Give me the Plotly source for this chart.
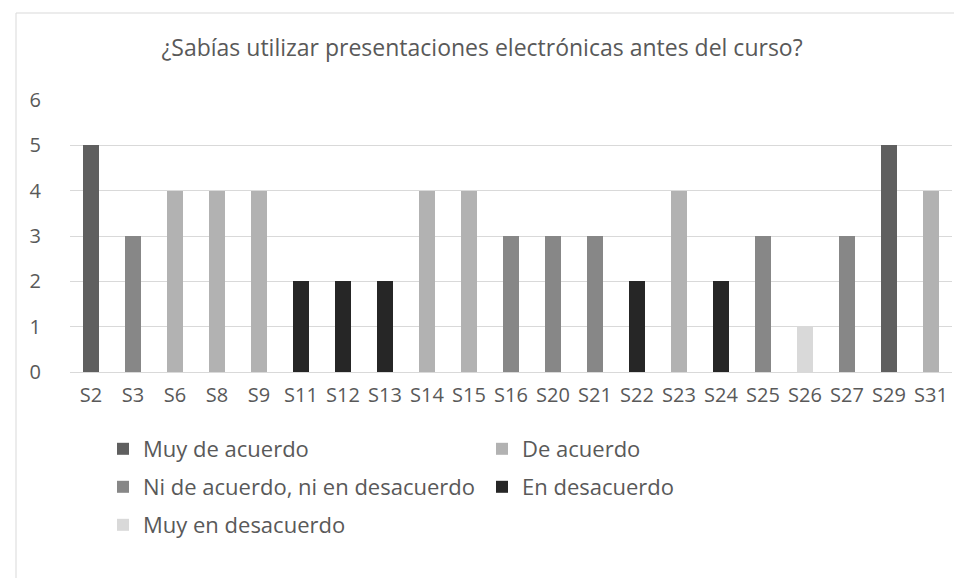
import plotly.graph_objects as go

# datos
categorias = ["S2", "S3", "S6", "S8", "S9", "S11", "S12", "S13", "S14", "S15", "S16",
              "S20", "S21", "S22", "S23", "S24", "S25", "S26", "S27", "S29", "S31"]
valores = [5, 3, 4, 4, 4, 2, 2, 2, 4, 4, 3, 3, 3, 2, 4, 2, 3, 1, 3, 5, 4]
respuestas = ["Muy de acuerdo", "Ni de acuerdo, ni en desacuerdo", "De acuerdo", "De acuerdo",
              "De acuerdo", "En desacuerdo", "En desacuerdo", "En desacuerdo", "De acuerdo",
              "De acuerdo", "Ni de acuerdo, ni en desacuerdo", "Ni de acuerdo, ni en desacuerdo",
              "Ni de acuerdo, ni en desacuerdo", "En desacuerdo", "De acuerdo", "En desacuerdo",
              "Ni de acuerdo, ni en desacuerdo", "Muy en desacuerdo",
              "Ni de acuerdo, ni en desacuerdo", "Muy de acuerdo", "De acuerdo"]

niveles = ["Muy de acuerdo", "De acuerdo", "Ni de acuerdo, ni en desacuerdo",
           "En desacuerdo", "Muy en desacuerdo"]
colores = {"Muy de acuerdo": "#5f5f5f", "De acuerdo": "#b2b2b2",
           "Ni de acuerdo, ni en desacuerdo": "#878787", "En desacuerdo": "#262626",
           "Muy en desacuerdo": "#d9d9d9"}
# fila de leyenda en la que va cada nivel
fila_leyenda = {"Muy de acuerdo": "legend", "De acuerdo": "legend",
                "Ni de acuerdo, ni en desacuerdo": "legend2", "En desacuerdo": "legend2",
                "Muy en desacuerdo": "legend3"}

FUENTE = "Open Sans"
GRIS_TEXTO = "#595959"

fig = go.Figure()
for nivel in niveles:
    y = [v if r == nivel else None for v, r in zip(valores, respuestas)]
    fig.add_trace(go.Bar(
        x=categorias, y=y, name=nivel,
        marker=dict(color=colores[nivel], line=dict(width=0)),
        legend=fila_leyenda[nivel],
    ))

leyenda_comun = dict(orientation="h", xanchor="left", yanchor="middle",
                     traceorder="normal",
                     entrywidth=334, entrywidthmode="pixels", itemwidth=30,
                     font=dict(family=FUENTE, size=22, color=GRIS_TEXTO),
                     bgcolor="rgba(0,0,0,0)")
x_leyenda = (95 - 62) / 882

fig.update_layout(
    width=962, height=578,
    margin=dict(l=62, r=18, t=92, b=214),
    paper_bgcolor="white", plot_bgcolor="white",
    barmode="stack", bargap=0.62,
    title=dict(text="¿Sabías utilizar presentaciones electrónicas antes del curso?",
               x=0.5 - 7 / 962, xanchor="center", y=1 - 40 / 578, yanchor="middle",
               font=dict(family=FUENTE, size=23, color=GRIS_TEXTO)),
    font=dict(family=FUENTE, color=GRIS_TEXTO),
    xaxis=dict(type="category", range=[-0.5, 20.5], showgrid=False,
               showline=True, linecolor="#d9d9d9", linewidth=1, ticks="",
               ticklabelstandoff=5,
               tickfont=dict(family=FUENTE, size=20, color=GRIS_TEXTO)),
    yaxis=dict(range=[0, 6], dtick=1, showgrid=True, gridcolor="#d9d9d9", gridwidth=1,
               zeroline=False, showline=False, ticks="", ticklabelstandoff=28,
               tickfont=dict(family=FUENTE, size=20, color=GRIS_TEXTO)),
    legend=dict(leyenda_comun, x=x_leyenda, y=(364 - 441) / 272),
    legend2=dict(leyenda_comun, x=x_leyenda, y=(364 - 479) / 272),
    legend3=dict(leyenda_comun, x=x_leyenda, y=(364 - 517) / 272),
    showlegend=True,
)

# borde del área del gráfico (izquierda y arriba)
fig.add_shape(type="line", xref="paper", yref="paper",
              x0=(8 - 62) / 882, x1=(8 - 62) / 882, y0=(364 - 5) / 272, y1=-1.0,
              line=dict(color="#d9d9d9", width=1))
fig.add_shape(type="line", xref="paper", yref="paper",
              x0=(8 - 62) / 882, x1=1.1, y0=(364 - 5) / 272, y1=(364 - 5) / 272,
              line=dict(color="#d9d9d9", width=1))

fig.write_html("out.html")
